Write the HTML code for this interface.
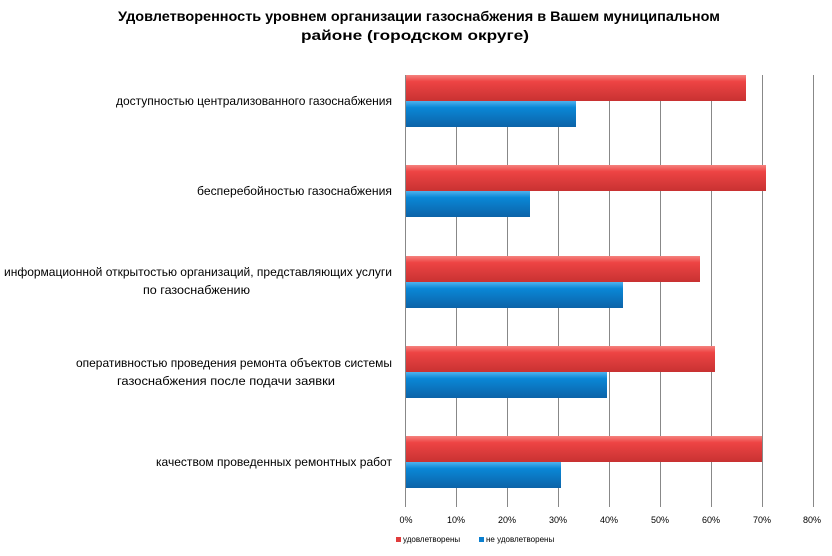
<!DOCTYPE html>
<html><head><meta charset="utf-8"><style>
body{margin:0;background:#fff;font-family:"Liberation Sans","DejaVu Sans",sans-serif}
</style></head><body>
<svg width="832" height="551" xmlns="http://www.w3.org/2000/svg" font-family="Liberation Sans, DejaVu Sans, sans-serif">
<defs>
<linearGradient id="r" x1="0" y1="0" x2="0" y2="1"><stop offset="0" stop-color="#f5837f"/><stop offset="0.25" stop-color="#ee4444"/><stop offset="1" stop-color="#c83232"/></linearGradient>
<linearGradient id="b" x1="0" y1="0" x2="0" y2="1"><stop offset="0" stop-color="#4fb2ee"/><stop offset="0.25" stop-color="#0a87d6"/><stop offset="1" stop-color="#0c63a8"/></linearGradient>
</defs>
<text x="118" y="21" font-size="14" font-weight="bold" textLength="602" lengthAdjust="spacingAndGlyphs">Удовлетворенность уровнем организации газоснабжения в Вашем муниципальном</text>
<text x="301" y="40" font-size="14" font-weight="bold" textLength="228" lengthAdjust="spacingAndGlyphs">районе (городском округе)</text>
<g stroke="#888" stroke-width="1">
<line x1="405.5" y1="75" x2="405.5" y2="507"/><line x1="456.5" y1="75" x2="456.5" y2="507"/><line x1="507.5" y1="75" x2="507.5" y2="507"/><line x1="558.5" y1="75" x2="558.5" y2="507"/><line x1="609.5" y1="75" x2="609.5" y2="507"/><line x1="660.5" y1="75" x2="660.5" y2="507"/><line x1="711.5" y1="75" x2="711.5" y2="507"/><line x1="762.5" y1="75" x2="762.5" y2="507"/><line x1="813.5" y1="75" x2="813.5" y2="507"/>
</g>
<g>
<rect x="406" y="75" width="340" height="26" fill="url(#r)"/><rect x="406" y="101" width="170" height="26" fill="url(#b)"/>
<rect x="406" y="165" width="360" height="26" fill="url(#r)"/><rect x="406" y="191" width="124" height="26" fill="url(#b)"/>
<rect x="406" y="256" width="294" height="26" fill="url(#r)"/><rect x="406" y="282" width="217" height="26" fill="url(#b)"/>
<rect x="406" y="346" width="309" height="26" fill="url(#r)"/><rect x="406" y="372" width="201" height="26" fill="url(#b)"/>
<rect x="406" y="436" width="356" height="26" fill="url(#r)"/><rect x="406" y="462" width="155" height="26" fill="url(#b)"/>
</g>
<g font-size="12" fill="#000">
<text x="116" y="105" textLength="276" lengthAdjust="spacingAndGlyphs">доступностью централизованного газоснабжения</text>
<text x="197" y="195" textLength="195" lengthAdjust="spacingAndGlyphs">бесперебойностью газоснабжения</text>
<text x="4" y="276" textLength="388" lengthAdjust="spacingAndGlyphs">информационной открытостью организаций, представляющих услуги</text>
<text x="143" y="294" textLength="107" lengthAdjust="spacingAndGlyphs">по газоснабжению</text>
<text x="76" y="367" textLength="316" lengthAdjust="spacingAndGlyphs">оперативностью проведения ремонта объектов системы</text>
<text x="117" y="385" textLength="218" lengthAdjust="spacingAndGlyphs">газоснабжения после подачи заявки</text>
<text x="156" y="466" textLength="236" lengthAdjust="spacingAndGlyphs">качеством проведенных ремонтных работ</text>
</g>
<g font-size="9" text-anchor="middle">
<text x="406" y="523">0%</text><text x="456" y="523">10%</text><text x="507" y="523">20%</text><text x="558" y="523">30%</text><text x="609" y="523">40%</text><text x="660" y="523">50%</text><text x="711" y="523">60%</text><text x="762" y="523">70%</text><text x="812" y="523">80%</text>
</g>
<rect x="396" y="537" width="5" height="5" fill="#e03c3c"/>
<text x="403" y="542" font-size="8">удовлетворены</text>
<rect x="479" y="537" width="5" height="5" fill="#0a7fcf"/>
<text x="486" y="542" font-size="8">не удовлетворены</text>
</svg>
</body></html>
